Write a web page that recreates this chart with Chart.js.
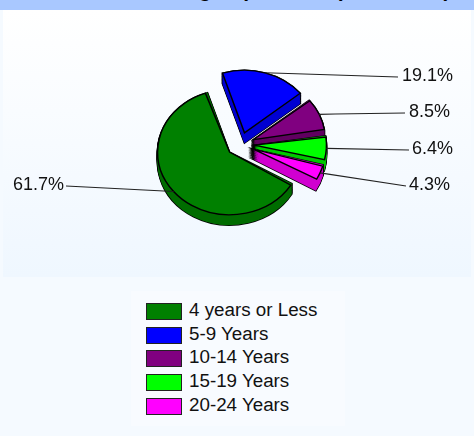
<!DOCTYPE html>
<html>
<head>
<meta charset="utf-8">
<script src="https://cdn.jsdelivr.net/npm/chart.js@4"></script>
<style>
html, body { margin: 0; padding: 0; }
body { width: 474px; height: 436px; overflow: hidden; position: relative; background: #f5faff; font-family: "Liberation Sans", Arial, sans-serif; }
#band { position: absolute; left: 0; top: 0; width: 474px; height: 10px; background: #a9c8ff; overflow: hidden; }
#band div { position: absolute; left: 44px; bottom: 8px; font: bold 21px "Liberation Sans", Arial, sans-serif; color: #000; white-space: nowrap; }
#panel { position: absolute; left: 3px; top: 10px; width: 468px; height: 267px; background: linear-gradient(#ffffff, #eff7ff); }
#wrap { position: absolute; left: 0; top: 0; width: 474px; height: 436px; }
#legend { position: absolute; left: 131px; top: 291px; width: 214px; height: 135px; background: #f8fbff; box-sizing: border-box; padding: 7px 0 0 15px; }
.item { height: 23.7px; font-size: 18.8px; line-height: 23.7px; color: #111; white-space: nowrap; }
.item i { display: inline-block; width: 34px; height: 15px; border: 1.5px solid #222; vertical-align: -4px; margin-right: 7px; }
</style>
</head>
<body>
<div id="band"><div>Overall Teaching Experience (Total Staff)</div></div>
<div id="panel"></div>
<div id="wrap"><canvas id="pieChart" width="474" height="436"></canvas></div>
<div id="legend"></div>
<script>
const categories = ['4 years or Less', '5-9 Years', '10-14 Years', '15-19 Years', '20-24 Years'];
const shares = [61.7, 19.1, 8.5, 6.4, 4.3];
const shareLabels = ['61.7%', '19.1%', '8.5%', '6.4%', '4.3%'];
const topColors = ['#008000', '#0000ff', '#800080', '#00ff00', '#ff00ff'];
const wallColors = ['#006c00', '#0000d2', '#600060', '#00c800', '#d000d0'];

const tilt = 0.87;
const depth = 11;
// where each leader line ends, and an optional elbow before it
const leaders = [
    { x: 66, y: 186, textX: 13, textY: 185 },
    { x: 398, y: 77, textX: 402, textY: 76 },
    { x: 405, y: 113, elbowX: 335, elbowY: 114, textX: 409, textY: 112 },
    { x: 409, y: 150, textX: 412, textY: 149 },
    { x: 406, y: 186, textX: 409, textY: 185 }
];

// ArcElement.draw grows a small slice less than a big one, this is its formula
function radiusGrowth(arc) {
    const off = arc.options.offset / 4;
    return off * (1 - Math.sin(Math.min(Math.PI, arc.circumference)));
}

function sliceGeom(arc) {
    const mid = (arc.startAngle + arc.endAngle) / 2;
    const off = arc.options.offset / 4;
    return {
        cx: arc.x + Math.cos(mid) * off,
        cy: arc.y + Math.sin(mid) * off,
        r: arc.outerRadius + radiusGrowth(arc),
        start: arc.startAngle,
        end: arc.endAngle,
        mid: mid
    };
}

function slicePath(ctx, g, dy) {
    ctx.beginPath();
    ctx.moveTo(g.cx, g.cy + dy);
    ctx.arc(g.cx, g.cy + dy, g.r, g.start, g.end);
    ctx.closePath();
}

const pie3d = {
    id: 'pie3d',
    afterDatasetsUpdate(chart) {
        // same drawn radius for every slice
        chart.getDatasetMeta(0).data.forEach(arc => {
            arc.outerRadius -= radiusGrowth(arc);
        });
    },
    beforeDatasetsDraw(chart) {
        const ctx = chart.ctx;
        const arcs = chart.getDatasetMeta(0).data;
        const centerY = arcs[0].y;
        ctx.save();
        ctx.translate(0, centerY);
        ctx.scale(1, tilt);
        ctx.translate(0, -centerY);
        // side walls, back slices first, green last
        const steps = depth / tilt;
        [1, 2, 3, 4, 0].forEach(i => {
            const g = sliceGeom(arcs[i]);
            ctx.lineWidth = 1.5;
            ctx.strokeStyle = '#000';
            for (let d = 0; d <= steps; d++) {
                slicePath(ctx, g, d);
                ctx.stroke();
            }
            ctx.fillStyle = wallColors[i];
            for (let d = 0; d <= steps; d++) {
                slicePath(ctx, g, d);
                ctx.fill();
            }
        });
    },
    afterDatasetsDraw(chart) {
        const ctx = chart.ctx;
        ctx.restore();
        const arcs = chart.getDatasetMeta(0).data;
        const centerY = arcs[0].y;
        ctx.font = '18px "Liberation Sans", Arial, sans-serif';
        ctx.textBaseline = 'middle';
        ctx.textAlign = 'left';
        arcs.forEach((arc, i) => {
            const g = sliceGeom(arc);
            const sx = g.cx + Math.cos(g.mid) * g.r;
            const sy = centerY + (g.cy + Math.sin(g.mid) * g.r - centerY) * tilt;
            const l = leaders[i];
            ctx.strokeStyle = '#222';
            ctx.lineWidth = 1.2;
            ctx.beginPath();
            ctx.moveTo(sx, sy);
            if (l.elbowX) ctx.lineTo(l.elbowX, l.elbowY);
            ctx.lineTo(l.x, l.y);
            ctx.stroke();
            ctx.fillStyle = '#111';
            ctx.fillText(shareLabels[i], l.textX, l.textY);
        });
    }
};

new Chart(document.getElementById('pieChart'), {
    type: 'pie',
    data: {
        labels: categories,
        datasets: [{
            data: shares,
            backgroundColor: topColors,
            borderColor: '#000',
            borderWidth: 1.5,
            borderJoinStyle: 'miter',
            offset: 56,
            clip: false
        }]
    },
    options: {
        responsive: false,
        animation: false,
        rotation: 120,
        radius: 72,
        layout: { padding: { left: 7, bottom: 147 } },
        plugins: { legend: { display: false }, tooltip: { enabled: false } }
    },
    plugins: [pie3d]
});

const legendBox = document.getElementById('legend');
categories.forEach((name, i) => {
    const row = document.createElement('div');
    row.className = 'item';
    const swatch = document.createElement('i');
    swatch.style.background = topColors[i];
    row.appendChild(swatch);
    row.appendChild(document.createTextNode(name));
    legendBox.appendChild(row);
});
</script>
</body>
</html>
